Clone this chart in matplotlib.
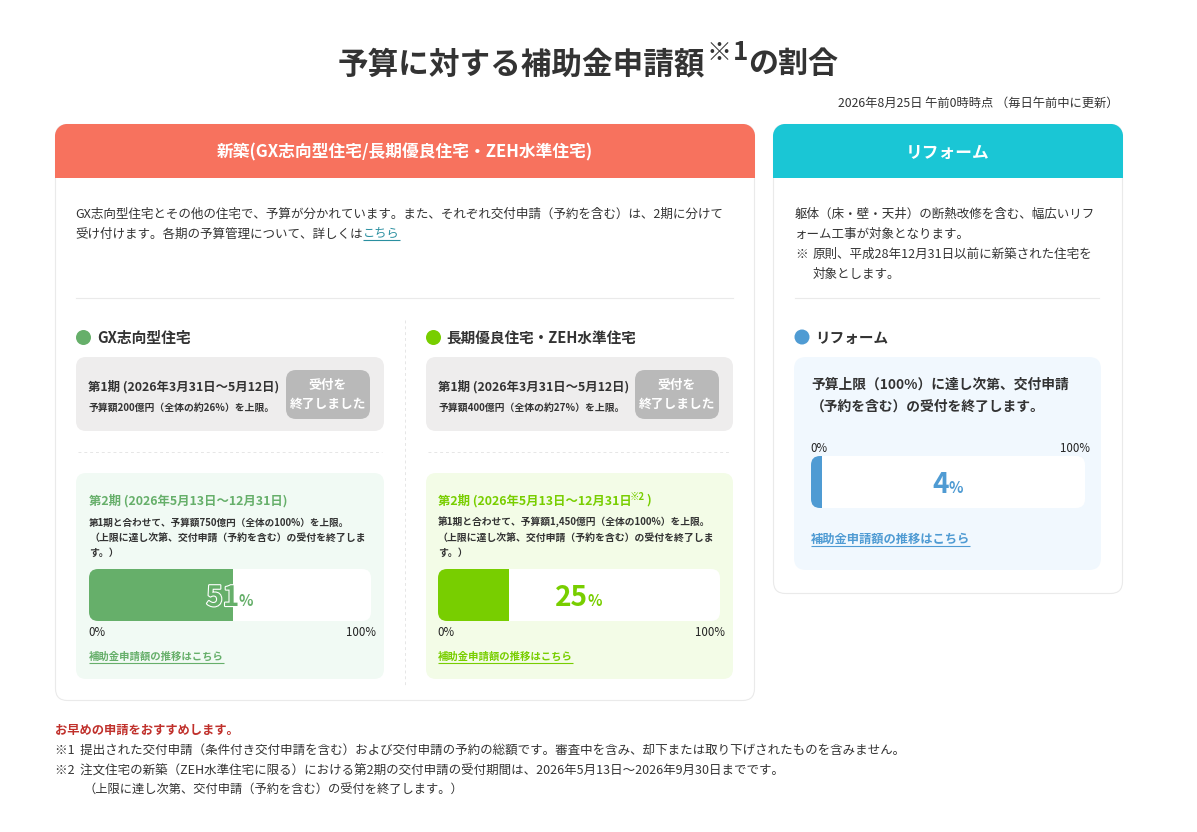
import matplotlib
matplotlib.use("Agg")
import matplotlib.pyplot as plt
from matplotlib.patches import FancyBboxPatch, Circle, PathPatch
from matplotlib.path import Path
import matplotlib.patheffects as pe

plt.rcParams['font.family'] = ['Noto Sans CJK JP', 'DejaVu Sans']

W, H = 1197, 832
PX = 0.72

# data
bar_names = ['GX志向型住宅', '長期優良住宅・ZEH水準住宅', 'リフォーム']
bar_values = [51, 25, 4]
bar_colors = ['#66AF6A', '#78CE00', '#4F9BD3']
tick_labels = ['0%', '100%']
link_label = '補助金申請額の推移はこちら'

DARK = '#333333'
fig = plt.figure(figsize=(W / 100, H / 100), dpi=100, facecolor='white')
ax = fig.add_axes([0, 0, 1, 1], zorder=0)
ax.set_xlim(0, W)
ax.set_ylim(H, 0)
ax.axis('off')
rend = fig.canvas.get_renderer()


def rbox(x0, y0, x1, y1, r, fc, ec='none', lw=0, z=1):
    p = FancyBboxPatch((x0 + r, y0 + r), x1 - x0 - 2 * r, y1 - y0 - 2 * r,
                       boxstyle=f'round,pad={r},rounding_size={r}', fc=fc, ec=ec, lw=lw, zorder=z)
    ax.add_patch(p)
    return p


def top_round(x0, y0, x1, y1, r, fc):
    k = 0.55 * r
    v = [(x0, y1), (x0, y0 + r), (x0, y0 + r - k), (x0 + r - k, y0), (x0 + r, y0), (x1 - r, y0),
         (x1 - r + k, y0), (x1, y0 + r - k), (x1, y0 + r), (x1, y1), (x0, y1)]
    c = [Path.MOVETO, Path.LINETO, Path.CURVE4, Path.CURVE4, Path.CURVE4, Path.LINETO,
         Path.CURVE4, Path.CURVE4, Path.CURVE4, Path.LINETO, Path.CLOSEPOLY]
    ax.add_patch(PathPatch(Path(v, c), fc=fc, ec='none', zorder=2))


def t(x, y, s, px, color=DARK, weight='normal', ha='left', tax=None, **kw):
    a = tax or ax
    return a.text(x, y + 1.5, s, fontsize=px * PX, color=color, weight=weight, ha=ha, va='center',
                  transform=ax.transData, zorder=6, clip_on=False, **kw)


def underlined(x, y, s, px, color, weight='bold', off=6):
    tx = t(x, y, s, px, color, weight)
    bb = tx.get_window_extent(rend)
    ax.plot([x, x + bb.width], [y + off + 1.5, y + off + 1.5], color=color, lw=0.8, zorder=6,
            solid_capstyle='butt')


# title
t(338, 63, '予算に対する補助金申請額', 30.6, DARK, 'bold')
t(706, 52, '※', 25, DARK, 'normal')
t(733, 51, '1', 26, DARK, 'bold')
t(748, 63, 'の割合', 30, DARK, 'bold')
t(1118, 102, '2026年8月25日 午前0時時点 （毎日午前中に更新）', 12.3, DARK, ha='right')

# cards
rbox(55.5, 124.5, 754.5, 700.5, 12, 'white', '#EAEAEA', 0.8)
rbox(773.5, 124.5, 1122.5, 593.5, 12, 'white', '#EAEAEA', 0.8)
top_round(55, 124, 755, 178, 12, '#F7725E')
top_round(773, 124, 1123, 178, 12, '#1AC6D5')
t(405, 151, '新築(GX志向型住宅/長期優良住宅・ZEH水準住宅)', 16.7, 'white', 'bold', ha='center')
t(948, 151, 'リフォーム', 16.7, 'white', 'bold', ha='center')

# intro text
t(75.5, 213, 'GX志向型住宅とその他の住宅で、予算が分かれています。また、それぞれ交付申請（予約を含む）は、2期に分けて', 12.55)
t(75.5, 233, '受け付けます。各期の予算管理について、詳しくは', 12.55)
underlined(363, 232, 'こちら', 12.2, '#2A8FA0', 'normal')
t(795, 213, '躯体（床・壁・天井）の断熱改修を含む、幅広いリフ', 12.55)
t(795, 233, 'ォーム工事が対象となります。', 12.55)
t(795, 253, '※', 12.55)
t(813, 253, '原則、平成28年12月31日以前に新築された住宅を', 12.55)
t(813, 273, '対象とします。', 12.55)

# rules
ax.plot([76, 733], [298, 298], color='#EAEAEA', lw=0.8, zorder=3)
ax.plot([795, 1099], [298, 298], color='#EAEAEA', lw=0.8, zorder=3)
ax.plot([405, 405], [320, 685], color='#E6E6E6', lw=0.7, ls=(0, (3, 3)), zorder=3)
ax.plot([78, 382], [452, 452], color='#E6E6E6', lw=0.7, ls=(0, (3, 3)), zorder=3)
ax.plot([428, 731], [452, 452], color='#E6E6E6', lw=0.7, ls=(0, (3, 3)), zorder=3)

# section heads
for (cx, cy, tx, i, px) in [(83.5, 337.5, 97, 0, 14.8), (433.5, 337.5, 446.5, 1, 14.6), (802, 337, 815, 2, 14.6)]:
    ax.add_patch(Circle((cx, cy), 7.5, fc=bar_colors[i], ec='none', zorder=3))
    t(tx, cy - 1, bar_names[i], px, DARK, 'bold')

# first-term boxes
for x0, x1, btn, sub in [(76, 384, 286, '予算額200億円（全体の約26%）を上限。'),
                         (426, 733, 635, '予算額400億円（全体の約27%）を上限。')]:
    rbox(x0, 357, x1, 431, 10, '#EEEDED')
    t(x0 + 12.5, 385, '第1期 (2026年3月31日～5月12日)', 12.4, DARK, 'bold')
    t(x0 + 12.5, 406, sub, 9.85, DARK, 'bold')
    rbox(btn, 370, btn + 84, 419, 10, '#B9B9B9', z=3)
    t(btn + 42, 384, '受付を', 12.7, 'white', 'bold', ha='center')
    t(btn + 42, 403, '終了しました', 12.7, 'white', 'bold', ha='center')

# second-term boxes
rbox(76, 473, 384, 679, 10, '#F1FAF4')
rbox(426, 473, 733, 679, 10, '#F3FCE7')
rbox(794, 357, 1101, 570, 12, '#F1F8FE')

t(89, 499, '第2期 (2026年5月13日～12月31日)', 12.4, bar_colors[0], 'bold')
t(89, 521, '第1期と合わせて、予算額750億円（全体の100%）を上限。', 9.6, DARK, 'bold')
t(89, 536, '（上限に達し次第、交付申請（予約を含む）の受付を終了しま', 9.9, DARK, 'bold')
t(89, 551, 'す。）', 9.9, DARK, 'bold')
t(438, 499, '第2期 (2026年5月13日～12月31日', 12.4, bar_colors[1], 'bold')
t(630, 495, '※2', 9.5, bar_colors[1], 'bold')
t(646, 499, ')', 12.4, bar_colors[1], 'bold')
t(438, 521, '第1期と合わせて、予算額1,450億円（全体の100%）を上限。', 9.75, DARK, 'bold')
t(438, 536, '（上限に達し次第、交付申請（予約を含む）の受付を終了しま', 9.9, DARK, 'bold')
t(438, 551, 'す。）', 9.9, DARK, 'bold')
t(811, 383, '予算上限（100%）に達し次第、交付申請', 13.8, DARK, 'bold')
t(811, 405, '（予約を含む）の受付を終了します。', 13.8, DARK, 'bold')


def progress(i, x0, x1, y0, y1, outline=False):
    clip = rbox(x0, y0, x1, y1, 9, 'white', z=3)
    bax = fig.add_axes([x0 / W, 1 - y1 / H, (x1 - x0) / W, (y1 - y0) / H], zorder=1)
    bax.set_xlim(0, 100)
    bax.set_ylim(-0.5, 0.5)
    bax.axis('off')
    bax.patch.set_alpha(0)
    bars = bax.barh([0], [bar_values[i]], height=1, color=bar_colors[i], lw=0)
    for b in bars:
        b.set_clip_path(clip.get_path(), clip.get_transform())
    cy = (y0 + y1) / 2
    cx = (x0 + x1) / 2
    n = t(cx, cy + 1.5, str(bar_values[i]), 28, bar_colors[i], 'bold', tax=bax)
    p = t(cx, cy + 4.5, '%', 15, bar_colors[i], 'bold', tax=bax)
    wn = n.get_window_extent(rend).width
    wp = p.get_window_extent(rend).width
    left = cx - (wn + wp) / 2
    n.set_x(left)
    p.set_x(left + wn - 0.5)
    if outline:
        n.set_path_effects([pe.withStroke(linewidth=1.6, foreground='white')])
        n.set_color(bar_colors[i])


progress(0, 89, 371, 569, 621, outline=True)
progress(1, 438, 720, 569, 621)
progress(2, 811, 1085, 456, 508)

# bar scale labels and links
for x, xr, y in [(88.5, 376, 631), (437.5, 725, 631), (810.5, 1090, 447)]:
    t(x, y, tick_labels[0], 11.5, '#222222')
    t(xr, y, tick_labels[1], 11.5, '#222222', ha='right')
underlined(89, 655, link_label, 10.35, bar_colors[0])
underlined(438, 655, link_label, 10.35, bar_colors[1])
underlined(811, 538, link_label, 12.3, bar_colors[2])

# footnotes
t(55, 729, 'お早めの申請をおすすめします。', 12.3, '#C0302B', 'bold')
t(55, 749, '※1  提出された交付申請（条件付き交付申請を含む）および交付申請の予約の総額です。審査中を含み、却下または取り下げされたものを含みません。', 12.5)
t(55, 770, '※2  注文住宅の新築（ZEH水準住宅に限る）における第2期の交付申請の受付期間は、2026年5月13日～2026年9月30日までです。', 12.5)
t(84, 789, '（上限に達し次第、交付申請（予約を含む）の受付を終了します。）', 12.25)

fig.savefig('out.png', dpi=100, facecolor='white')
